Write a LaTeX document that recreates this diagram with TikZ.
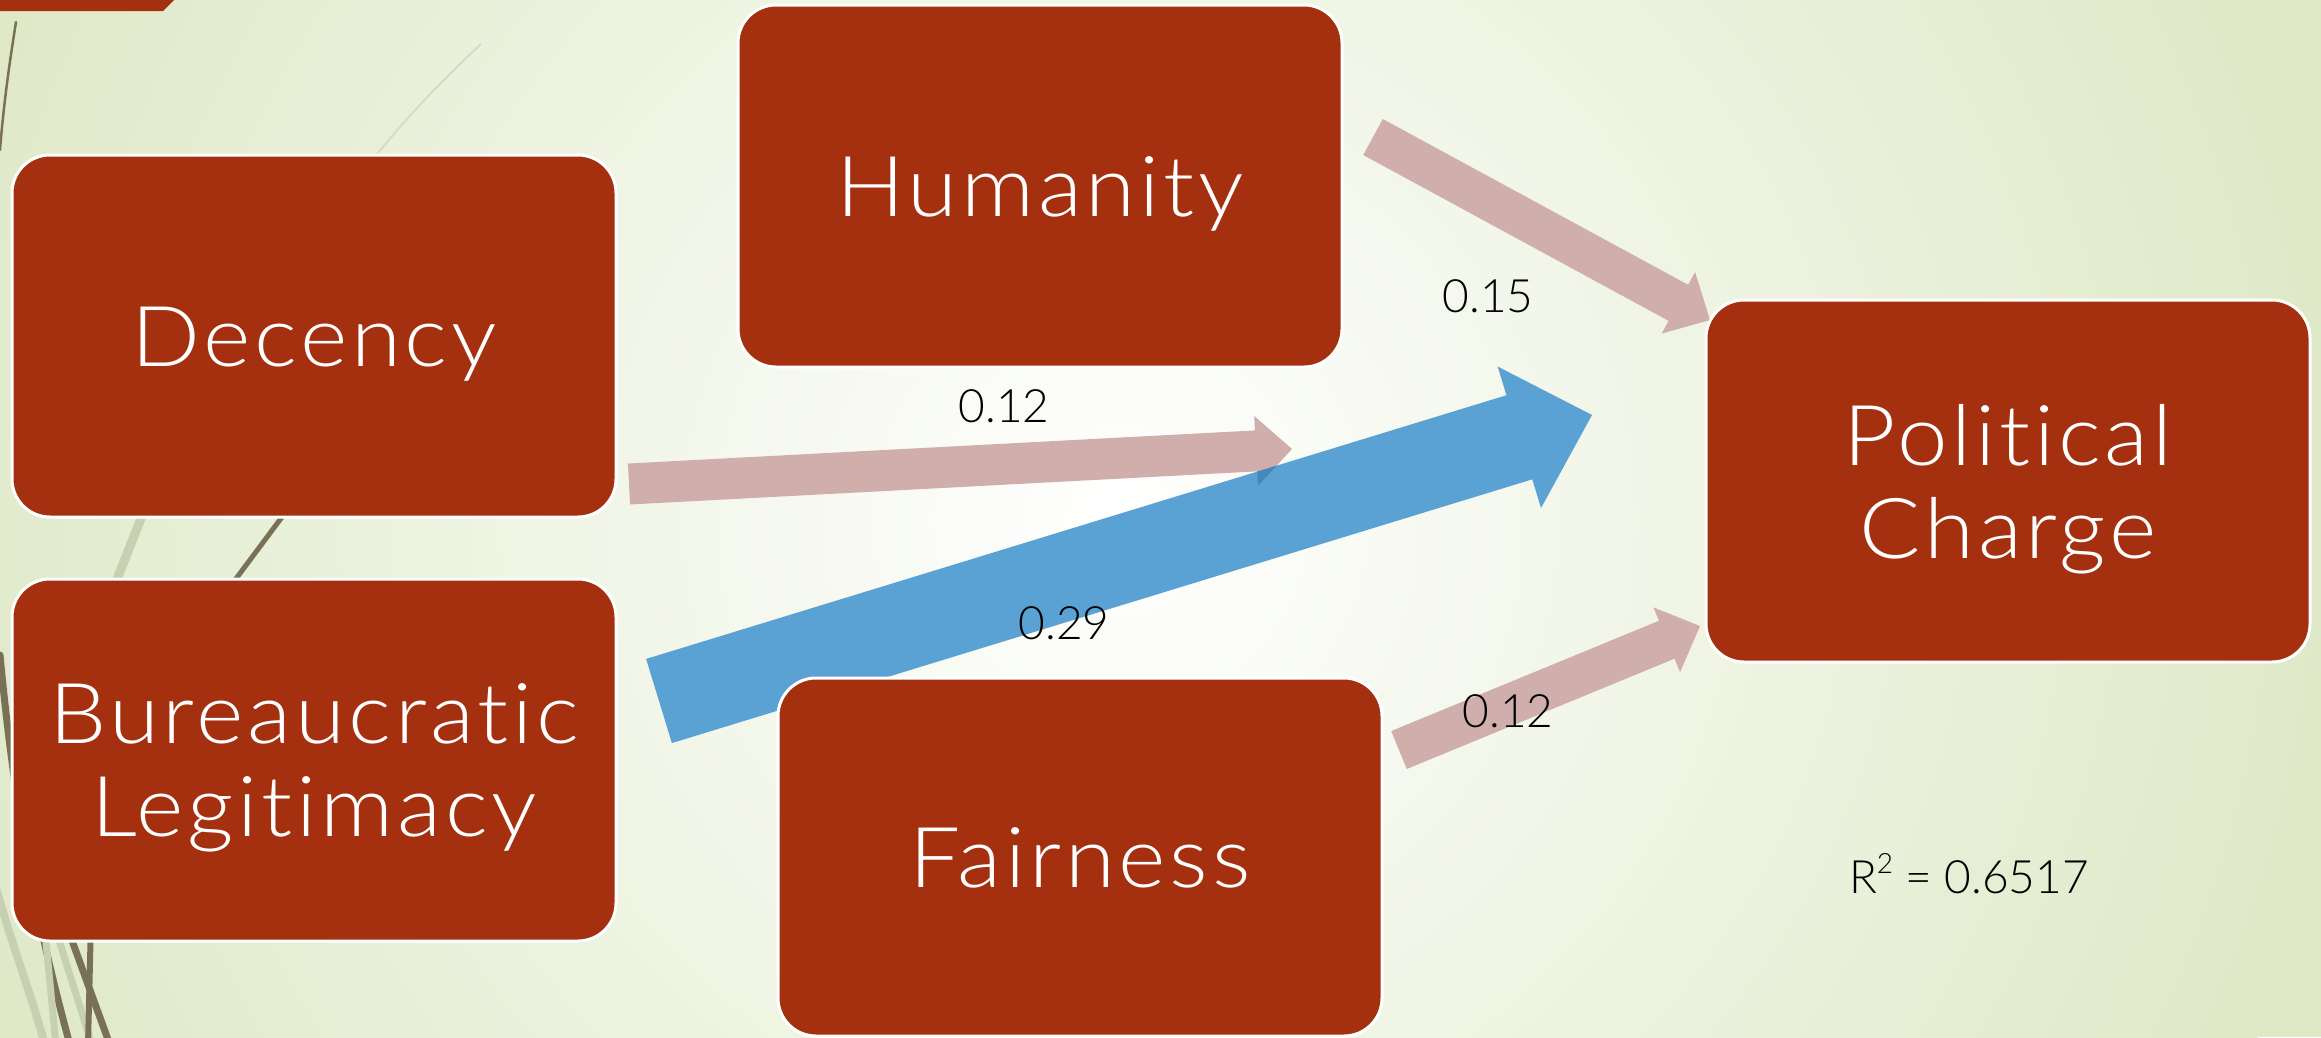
\documentclass[tikz,border=0pt]{standalone}
\usepackage{fontspec}
\newfontfamily\lightfont{Lato Light}
\newfontfamily\boxfont{Lato Light}[FakeStretch=1.08, LetterSpace=4.5, Ligatures=NoCommon]
\usetikzlibrary{calc}
\definecolor{boxred}{RGB}{165,48,16}
\definecolor{pinkar}{RGB}{208,174,172}
\definecolor{bluear}{RGB}{91,162,212}
\definecolor{overlapblue}{RGB}{72,135,185}
\definecolor{bggreen}{RGB}{222,232,198}
\definecolor{grassdark}{RGB}{120,113,85}
\definecolor{grasslight}{RGB}{200,208,178}
\definecolor{grassfaint}{RGB}{214,220,200}
\newcommand\blockarrow[6]{%
  \coordinate (hb) at ($(#2)!#5!(#1)$);
  \path[#6] ($(#1)!#3!90:(#2)$) -- ($(hb)!#3!-90:(#1)$) -- ($(hb)!#4!-90:(#1)$)
    -- (#2) -- ($(hb)!#4!90:(#1)$) -- ($(hb)!#3!90:(#1)$) -- ($(#1)!#3!-90:(#2)$) -- cycle;
}
\begin{document}
\begin{tikzpicture}[x=1pt,y=-1pt,
  box/.style={draw=white, line width=3pt, fill=boxred, rounded corners=38pt,
    text=white, font=\boxfont\fontsize{84}{93}\selectfont, align=center,
    inner sep=0pt, minimum width=604pt, minimum height=362pt, text depth=0pt},
  oneline/.style={text height=60pt},
  coef/.style={font=\lightfont\fontsize{46}{50}\selectfont, text=black, anchor=base, inner sep=0pt},
  grassd/.style={draw=grassdark, line cap=round},
  grassl/.style={draw=grasslight, line cap=round},
  pinkfill/.style={fill=pinkar},
  bluefill/.style={fill=bluear},
  overlapfill/.style={fill=overlapblue}]
% background
\useasboundingbox (0,0) rectangle (2321,1037);
\fill[bggreen] (0,0) rectangle (2321,1037);
\begin{scope}
  \clip (0,0) rectangle (2321,1037);
  \shade[inner color=white, outer color=bggreen] (1120,520) circle[radius=1250pt];
\end{scope}
% top-left red bar
\fill[boxred] (0,0) -- (174,0) -- (163,11) -- (0,11) -- cycle;
% grass decorations
\draw[grassd, line width=2.5pt] (16,22) .. controls (10,60) and (4,100) .. (0,150);
\draw[draw=grassfaint, line width=2pt] (481,44) .. controls (430,92) and (400,125) .. (360,175);
\draw[grassl, line width=9pt] (166,455) -- (93,640);
\draw[grassd, line width=5pt] (320,466) -- (200,627);
\draw[grassl, line width=8pt] (-6,880) .. controls (10,940) and (30,990) .. (45,1045);
\draw[grassd, line width=7pt] (0,655) .. controls (10,760) and (25,880) .. (70,1045);
\draw[grassl, line width=7pt] (40,880) -- (56,1045);
\draw[grassl, line width=7pt] (40,880) -- (92,1045);
\draw[grassd, line width=7pt] (50,880) -- (110,1045);
\draw[grassd, line width=6pt] (92,880) -- (88,1045);
% arrows
\coordinate (a1s) at (1373,137); \coordinate (a1e) at (1710,320);
\coordinate (a2s) at (629,484);  \coordinate (a2e) at (1292,449);
\coordinate (a3s) at (659,701);  \coordinate (a3e) at (1592,415);
\coordinate (a4s) at (1399,750); \coordinate (a4e) at (1700,626);
\blockarrow{a1s}{a1e}{20.5pt}{35pt}{36pt}{pinkfill}
\blockarrow{a2s}{a2e}{20.5pt}{35pt}{36pt}{pinkfill}
\blockarrow{a4s}{a4e}{20.5pt}{35pt}{36pt}{pinkfill}
\blockarrow{a3s}{a3e}{44pt}{74pt}{76pt}{bluefill}
\begin{scope}
  \blockarrow{a3s}{a3e}{44pt}{74pt}{76pt}{clip}
  \blockarrow{a2s}{a2e}{20.5pt}{35pt}{36pt}{overlapfill}
\end{scope}
% boxes
\node[box, oneline] (dec) at (314,336) {Decency};
\node[box, oneline] (hum) at (1040,186) {Humanity};
\node[box] (bur) at (314,760) {Bureaucratic\\Legitimacy};
\node[box, oneline, minimum height=358pt] (fair) at (1080,857) {Fairness};
\node[box] (pc) at (2008,481) {Political\\Charge};
% coefficients
\node[coef] (c15) at (1488,312) {0.15};
\node[coef] (c12a) at (1004,422) {0.12};
\node[coef] (c29) at (1064,639) {0.29};
\node[coef] (c12b) at (1508,727) {0.12};
\node[coef] (r2) at (1969,893) {R\raisebox{0.42em}{\fontsize{28}{30}\selectfont 2} = 0.6517};
\end{tikzpicture}
\end{document}
